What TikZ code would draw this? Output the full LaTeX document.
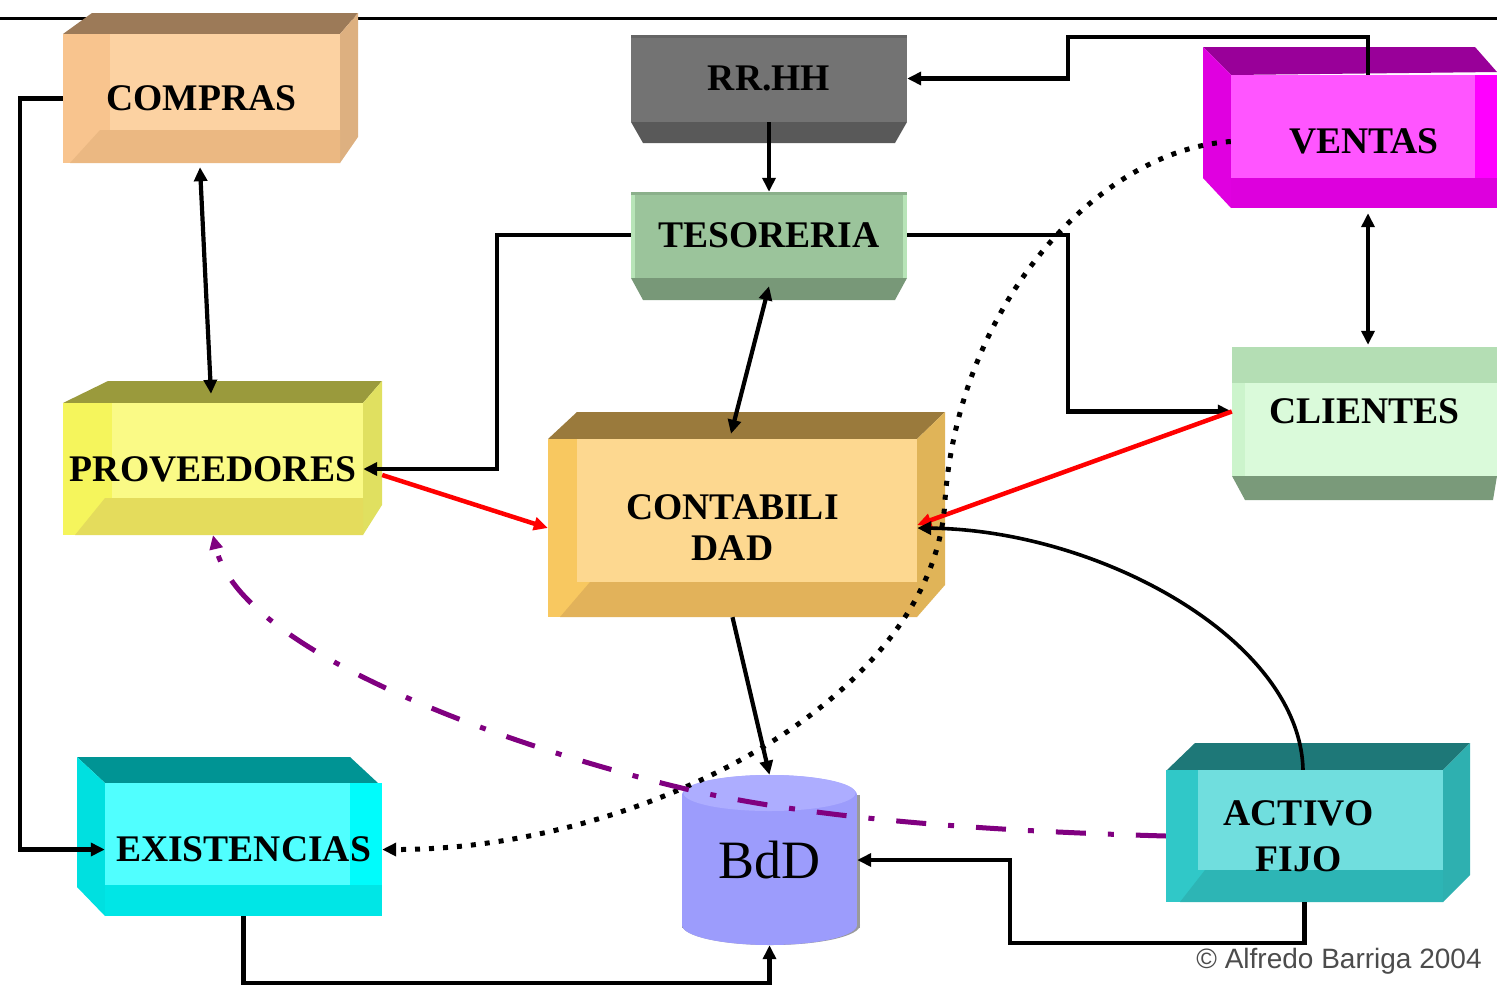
\documentclass[tikz,border=0pt]{standalone}
\usepackage{fontspec}
\setmainfont{Liberation Serif}
\newfontfamily\sansf{Liberation Sans}
\usetikzlibrary{arrows.meta,calc}
% COMPRAS
\definecolor{coTop}{HTML}{9C7A58}\definecolor{coSide}{HTML}{DDB080}
\definecolor{coBase}{HTML}{F8C48E}\definecolor{coIn}{HTML}{FCD2A2}\definecolor{coBot}{HTML}{EBB882}
% PROVEEDORES
\definecolor{prTop}{HTML}{9A9A3C}\definecolor{prSide}{HTML}{E0E060}
\definecolor{prBase}{HTML}{F5F55C}\definecolor{prIn}{HTML}{FAFA86}\definecolor{prBot}{HTML}{E4DC5C}
% EXISTENCIAS
\definecolor{exTop}{HTML}{009494}\definecolor{exSide}{HTML}{00E0E0}
\definecolor{exBase}{HTML}{00FCFC}\definecolor{exIn}{HTML}{50FFFF}\definecolor{exBot}{HTML}{00E6E6}
% VENTAS
\definecolor{veTop}{HTML}{990099}\definecolor{veSide}{HTML}{E000E0}
\definecolor{veBase}{HTML}{FF00FF}\definecolor{veIn}{HTML}{FF55FF}\definecolor{veBot}{HTML}{DD00DD}
% CONTABILIDAD
\definecolor{ctTop}{HTML}{9A7A3C}\definecolor{ctSide}{HTML}{E0B458}
\definecolor{ctBase}{HTML}{F8C860}\definecolor{ctIn}{HTML}{FDD890}\definecolor{ctBot}{HTML}{E2B25A}
% ACTIVO FIJO
\definecolor{afTop}{HTML}{1E7878}\definecolor{afSide}{HTML}{2EB0B0}
\definecolor{afBase}{HTML}{30C8C8}\definecolor{afIn}{HTML}{70DEDE}\definecolor{afBot}{HTML}{2DB5B5}
% RR.HH, TESORERIA, CLIENTES
\definecolor{rhBase}{HTML}{737373}\definecolor{rhBot}{HTML}{595959}
\definecolor{tsBase}{HTML}{9BC49B}\definecolor{tsEdge}{HTML}{B8E4B8}\definecolor{tsBot}{HTML}{789878}
\definecolor{clBase}{HTML}{CCF4CC}\definecolor{clIn}{HTML}{DAFADA}\definecolor{clTopS}{HTML}{B4DEB4}\definecolor{clBot}{HTML}{7A9A7A}
% BdD
\definecolor{dbBody}{HTML}{9C9CFC}\definecolor{dbTop}{HTML}{ADADFF}\definecolor{dbShadow}{HTML}{9A9A9A}
\definecolor{pline}{HTML}{800080}
\begin{document}
\begin{tikzpicture}[x=1pt,y=-1pt,
  lbl/.style={font={\fontsize{37.6}{41}\selectfont\bfseries}, align=center, inner sep=0pt, text=black},
  conn/.style={line width=4.2pt, draw=black},
  redconn/.style={line width=4.5pt, draw=red},
  dotconn/.style={line width=5pt, draw=black, dash pattern=on 5pt off 9pt},
  purpconn/.style={line width=5pt, draw=pline, dash pattern=on 30pt off 22pt on 6pt off 22pt},
  tip/.style={arrows={-Triangle[length=14pt,width=13pt]}},
  dtip/.style={arrows={Triangle[length=14pt,width=13pt]-Triangle[length=14pt,width=13pt]}}
]
\fill[white] (0,0) rectangle (1497,986);
\useasboundingbox (0,0) rectangle (1497,986);
% top rule
\draw[line width=3pt] (0,18) -- (1497,18);

% ---------- COMPRAS
\fill[coTop] (63,34) -- (92,13) -- (358,13) -- (340,34) -- cycle;
\fill[coSide] (340,34) -- (358,13) -- (358,137) -- (340,163) -- cycle;
\fill[coBase] (63,34) rectangle (340,163);
\fill[coIn] (110,34) rectangle (340,130);
\fill[coBot] (70,163) -- (100,130) -- (340,130) -- (340,163) -- cycle;
% ---------- PROVEEDORES
\fill[prTop] (63,403) -- (108,381) -- (382,381) -- (363,403) -- cycle;
\fill[prSide] (363,403) -- (382,381) -- (382,505) -- (363,535) -- cycle;
\fill[prBase] (63,403) rectangle (363,535);
\fill[prIn] (112,403) rectangle (363,498);
\fill[prBot] (75,535) -- (105,498) -- (363,498) -- (363,535) -- cycle;
% ---------- EXISTENCIAS
\fill[exTop] (77,757) -- (350,757) -- (378,783) -- (105,783) -- cycle;
\fill[exSide] (77,757) -- (105,783) -- (105,916) -- (77,887) -- cycle;
\fill[exBase] (105,783) rectangle (382,916);
\fill[exIn] (105,783) rectangle (350,885);
\fill[exBot] (105,885) rectangle (382,916);
% ---------- VENTAS
\fill[veTop] (1203,47) -- (1475,47) -- (1497,72) -- (1231,75) -- cycle;
\fill[veSide] (1203,47) -- (1231,75) -- (1231,208) -- (1203,178) -- cycle;
\fill[veBase] (1231,75) rectangle (1497,208);
\fill[veIn] (1231,75) rectangle (1475,178);
\fill[veBot] (1231,178) rectangle (1497,208);
% ---------- CONTABILIDAD
\fill[ctTop] (548,439) -- (577,412) -- (945,412) -- (917,439) -- cycle;
\fill[ctSide] (917,439) -- (945,412) -- (945,585) -- (917,617) -- cycle;
\fill[ctBase] (548,439) rectangle (917,617);
\fill[ctIn] (577,439) rectangle (917,582);
\fill[ctBot] (560,617) -- (590,582) -- (917,582) -- (917,617) -- cycle;
% ---------- ACTIVO FIJO
\fill[afTop] (1167,770) -- (1195,743) -- (1470,743) -- (1443,770) -- cycle;
\fill[afSide] (1443,770) -- (1470,743) -- (1470,875) -- (1443,902) -- cycle;
\fill[afBase] (1166,770) rectangle (1443,902);
\fill[afIn] (1198,770) rectangle (1443,870);
\fill[afBot] (1180,902) -- (1205,870) -- (1443,870) -- (1443,902) -- cycle;
% ---------- RR.HH
\fill[rhBot] (631,122) -- (907,122) -- (895,143) -- (643,143) -- cycle;
\fill[rhBase] (631,35) rectangle (907,122);
\fill[rhBase!88!black] (631,35) rectangle (907,38);
% ---------- TESORERIA
\fill[tsBot] (631,278) -- (907,278) -- (895,300) -- (643,300) -- cycle;
\fill[tsBase] (631,192) rectangle (907,278);
\fill[tsEdge] (631,192) rectangle (635,278);
\fill[tsEdge] (903,192) rectangle (907,278);
\fill[tsBase!90!black] (631,192) rectangle (907,195);
% ---------- CLIENTES
\fill[clBot] (1232,476) -- (1497,476) -- (1493,500) -- (1245,500) -- cycle;
\fill[clBase] (1232,347) rectangle (1497,476);
\fill[clIn] (1245,383) rectangle (1497,476);
\fill[clTopS] (1232,347) rectangle (1497,383);
% ---------- BdD cylinder
\fill[dbShadow] (682,795) rectangle (860,928);
\fill[dbShadow] (771,925) ellipse [x radius=89, y radius=20];
\fill[dbBody] (682,795) rectangle (857,925);
\fill[dbBody] (769.5,925) ellipse [x radius=87.5, y radius=20];
\fill[dbBody] (769.5,795) ellipse [x radius=87.5, y radius=20];
\fill[dbTop] (769.5,793) ellipse [x radius=86, y radius=18];

% ---------- nodes (front faces)
\node[lbl, minimum width=277, minimum height=129] (compras) at (201.5,98.5) {COMPRAS};
\node[lbl, minimum width=276, minimum height=87] (rrhh) at (769,78.5) {RR.HH};
\node[lbl, minimum width=276, minimum height=86] (teso) at (769,235) {TESORERIA};
\node[lbl, minimum width=266, minimum height=133] (ventas) at (1364,141.5) {VENTAS};
\node[lbl, minimum width=300, minimum height=132] (prov) at (213,469) {PROVEEDORES};
\node[lbl, minimum width=265, minimum height=129] (cli) at (1364.5,411.5) {CLIENTES};
\node[lbl, minimum width=369, minimum height=178] (contab) at (732.5,528) {CONTABILI\\DAD};
\node[lbl, minimum width=277, minimum height=133] (exist) at (243.5,849.5) {EXISTENCIAS};
\node[lbl, minimum width=277, minimum height=132, font={\fontsize{37.6}{46}\selectfont\bfseries}] (activo) at (1304.5,836) {\hspace*{-12pt}ACTIVO\\\hspace*{-12pt}FIJO};
\node[inner sep=0pt, minimum width=175, minimum height=170, font={\fontsize{54}{58}\selectfont}] (bdd) at (769.5,860) {BdD};
\node[inner sep=0pt, text=black!70, font={\sansf\fontsize{28}{30}\selectfont}] (copy) at (1339,961) {© Alfredo Barriga 2004};

% ---------- bend points
\coordinate (bV) at (1068,37);
\coordinate (bA) at (1010,860);

% ---------- connectors
\draw[conn,tip] (compras.west) -- ++(-43,0) |- (exist.west);
\draw[conn,dtip] ($(compras.south)+(-1.5,4)$) -- ($(prov.north)+(-2,-9)$);
\draw[conn,tip] (rrhh.south) -- (teso.north);
\draw[conn,tip] ($(ventas.north)+(4,0)$) |- (bV) |- (rrhh.east);
\draw[conn,tip] (teso.west) -- ++(-134,0) |- (prov.east);
\draw[conn,tip] (teso.east) -- ++(161,0) |- (cli.west);
\draw[conn,dtip] ($(teso.south)+(0,8)$) -- ($(contab.north)+(-1.5,-5)$);
\draw[conn,dtip] ($(ventas.south)+(4,5)$) -- ($(cli.north)+(3.5,-2)$);
\draw[conn,tip] (contab.south) -- (bdd.north);
\draw[conn,tip] (activo.south) -- ++(0,41) -| (bA) -- (bdd.east);
\draw[conn,tip] (exist.south) -- ++(0,67) -| (bdd.south);
\draw[redconn,tip] ($(prov.east)+(19,6)$) -- (contab.west);
\draw[redconn,tip] (cli.west) -- ($(contab.east)+(0,-3)$);
\draw[line width=3.6pt,tip] ($(activo.north)+(-1.5,0)$) .. controls (1300,640) and (1100,530) .. (contab.east);
\draw[dotconn,tip] (ventas.west) .. controls (1100,150) and (960,300) .. (945,500) .. controls (935,700) and (640,850) .. (exist.east);
\draw[purpconn,tip] (activo.west) .. controls (950,830) and (800,815) .. (690,790) .. controls (500,745) and (240,650) .. (prov.south);
\end{tikzpicture}
\end{document}
